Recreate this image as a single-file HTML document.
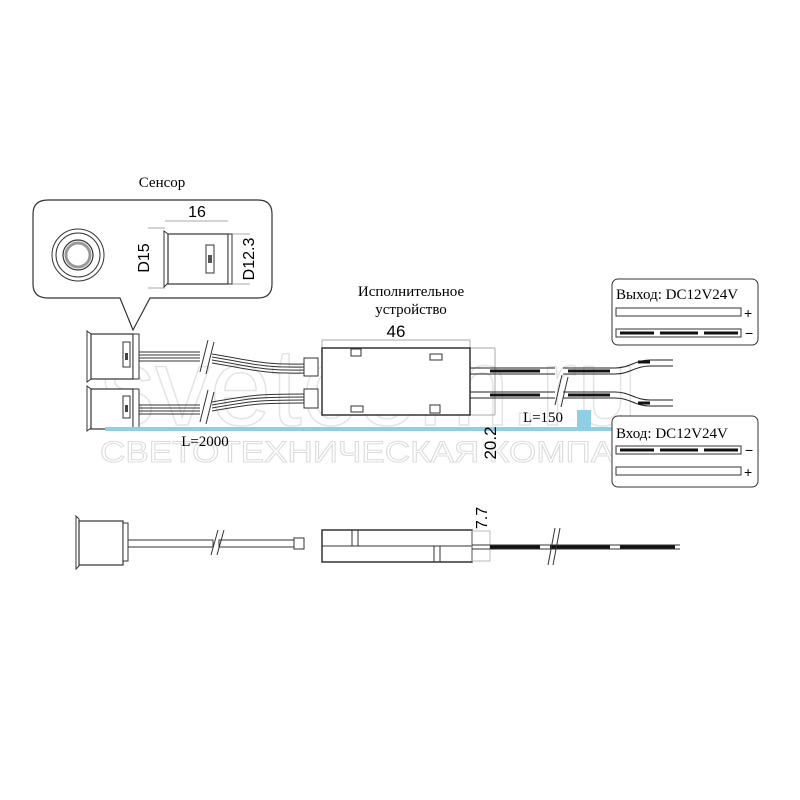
<!DOCTYPE html>
<html><head><meta charset="utf-8"><style>body{margin:0;background:#fff}svg{display:block}</style></head>
<body>
<svg width="800" height="800" viewBox="0 0 800 800" xmlns="http://www.w3.org/2000/svg" font-family="Liberation Serif, serif">
<rect width="800" height="800" fill="#fff"/>
<text x="100" y="425" font-family="Liberation Sans, sans-serif" font-size="110" fill="none" stroke="#e4e4e4" stroke-width="1.5">svetcom.ru</text>
<text x="100" y="462" font-family="Liberation Sans, sans-serif" font-size="30" fill="none" stroke="#dcdcdc" stroke-width="1" textLength="590" lengthAdjust="spacingAndGlyphs">СВЕТОТЕХНИЧЕСКАЯ КОМПАНИЯ</text>

<text x="162" y="187" font-size="15" text-anchor="middle">Сенсор</text>
<path d="M48 200 H258 Q272 200 272 214 V284 Q272 298 258 298 H150 L133 330 L120 298 H48 Q33 298 33 284 V214 Q33 200 48 200 Z" fill="#fff" stroke="#333" stroke-width="1.2"/>
<circle cx="78" cy="255" r="26" fill="none" stroke="#333" stroke-width="1"/>
<circle cx="78" cy="255" r="22" fill="none" stroke="#333" stroke-width="1"/>
<circle cx="78" cy="255" r="15" fill="none" stroke="#333" stroke-width="1.2"/>
<circle cx="78" cy="255" r="12" fill="none" stroke="#999" stroke-width="3"/>
<line x1="165" y1="221" x2="228" y2="221" stroke="#aaa"/>
<line x1="148" y1="228" x2="165" y2="228" stroke="#aaa"/>
<line x1="148" y1="288" x2="165" y2="288" stroke="#aaa"/>
<line x1="230" y1="234" x2="250" y2="234" stroke="#aaa"/>
<line x1="230" y1="284" x2="250" y2="284" stroke="#aaa"/>
<path d="M164 231 L168 234 V283 L164 287 Z" fill="#fff" stroke="#333"/>
<rect x="168" y="234" width="60" height="50" fill="#fff" stroke="#333" stroke-width="1.2"/>
<rect x="228" y="234" width="4" height="50" fill="#fff" stroke="#333"/>
<rect x="206" y="245" width="8" height="28" fill="#fff" stroke="#333"/>
<rect x="208" y="255" width="4" height="8" fill="#555"/>
<text x="197" y="217" font-family="Liberation Sans, sans-serif" font-size="16" text-anchor="middle">16</text>
<text transform="translate(149,258) rotate(-90)" font-family="Liberation Sans, sans-serif" font-size="16" text-anchor="middle">D15</text>
<text transform="translate(254,259) rotate(-90)" font-family="Liberation Sans, sans-serif" font-size="16" text-anchor="middle">D12.3</text>

<g stroke="#333" fill="#fff">
<path d="M87 331 L91 334 V379 L87 382 Z"/>
<rect x="91" y="334" width="42" height="45" stroke-width="1.2"/>
<rect x="133" y="334" width="6" height="45"/>
<rect x="123" y="342" width="7" height="25"/>
<path d="M87 386 L91 389 V428 L87 431 Z"/>
<rect x="91" y="389" width="42" height="40" stroke-width="1.2"/>
<rect x="133" y="389" width="6" height="40"/>
<rect x="123" y="396" width="7" height="22"/>
</g>
<rect x="125" y="353" width="3" height="7" fill="#444"/>
<rect x="125" y="405" width="3" height="7" fill="#444"/>
<g fill="none" stroke="#333" stroke-width="1">
<path d="M139 352 H200 M212 354 C250 360 260 365 305 364"/>
<path d="M139 355 H200 M212 357 C250 363 260 368 305 367"/>
<path d="M139 358 H200 M212 360 C250 366 260 371 305 370"/>
<path d="M139 361 H200 M212 363 C250 369 260 374 305 373"/>
<path d="M139 405 H200 M212 402 C250 395 260 394 305 394"/>
<path d="M139 408 H200 M212 405 C250 398 260 397 305 397"/>
<path d="M139 411 H200 M212 408 C250 401 260 400 305 400"/>
<path d="M139 414 H200 M212 411 C250 404 260 403 305 403"/>
<path d="M200 372 L208 340 M206 374 L214 342"/>
<path d="M200 422 L208 390 M206 424 L214 392"/>
</g>
<g stroke="#333" fill="#fff">
<rect x="304" y="358" width="14" height="18"/>
<rect x="304" y="389" width="14" height="19"/>
</g>
<line x1="322" y1="340" x2="470" y2="340" stroke="#aaa"/>
<line x1="322" y1="340" x2="322" y2="348" stroke="#aaa"/>
<line x1="470" y1="340" x2="470" y2="348" stroke="#aaa"/>
<line x1="470" y1="348" x2="495" y2="348" stroke="#aaa"/>
<line x1="470" y1="415" x2="495" y2="415" stroke="#aaa"/>
<line x1="495" y1="348" x2="495" y2="415" stroke="#aaa"/>
<rect x="322" y="348" width="148" height="67" fill="#fff" stroke="#333" stroke-width="1.5"/>
<g fill="#fff" stroke="#333">
<rect x="351" y="349" width="10" height="7"/>
<rect x="430" y="354" width="12" height="6"/>
<rect x="351" y="406" width="12" height="6"/>
<rect x="430" y="405" width="10" height="8"/>
</g>
<text x="411" y="296" font-size="15" text-anchor="middle">Исполнительное</text>
<text x="411" y="314" font-size="15" text-anchor="middle">устройство</text>
<text x="396" y="337" font-family="Liberation Sans, sans-serif" font-size="17" text-anchor="middle">46</text>
<g fill="none" stroke="#222">
<path d="M470 368 H555 M563 368 H615 C630 368 635 360 650 360 H673"/>
<path d="M470 374 H555 M563 374 H615 C630 374 635 366 650 366 H673"/>
<path d="M470 392 H555 M563 392 H615 C630 392 635 400 650 400 H673"/>
<path d="M470 398 H555 M563 398 H615 C630 398 635 406 650 406 H673"/>
</g>
<g stroke="#111" stroke-width="3">
<path d="M490 371 H540 M568 371 H610"/>
<path d="M490 395 H540 M568 395 H610"/>
<path d="M638 362 L650 362 M638 403 L650 403"/>
</g>
<path d="M555 405 L562 375 M561 407 L568 377" stroke="#333"/>
<rect x="105" y="427" width="605" height="4" fill="#8ecfe6"/>
<rect x="577" y="410" width="14" height="18" fill="#8ecfe6"/>
<text x="543" y="422" font-size="15" text-anchor="middle">L=150</text>
<text x="205" y="446" font-size="15" text-anchor="middle">L=2000</text>
<text transform="translate(496,443) rotate(-90)" font-family="Liberation Sans, sans-serif" font-size="17" text-anchor="middle">20.2</text>
<rect x="612" y="279" width="146" height="66" rx="6" fill="#fff" stroke="#333"/>
<text x="616" y="299" font-size="15">Выход: DC12V24V</text>
<rect x="616" y="308" width="125" height="8" fill="#fff" stroke="#333"/>
<text x="744" y="318" font-family="Liberation Sans, sans-serif" font-size="14">+</text>
<rect x="616" y="329" width="125" height="8" fill="#fff" stroke="#333"/>
<path d="M620 333 H654 M660 333 H698 M704 333 H738" stroke="#111" stroke-width="3"/>
<text x="745" y="338" font-family="Liberation Sans, sans-serif" font-size="14">−</text>
<rect x="612" y="416" width="146" height="71" rx="6" fill="#fff" stroke="#333"/>
<text x="616" y="438" font-size="15">Вход: DC12V24V</text>
<rect x="616" y="446" width="125" height="8" fill="#fff" stroke="#333"/>
<path d="M620 450 H654 M660 450 H698 M704 450 H738" stroke="#111" stroke-width="3"/>
<text x="745" y="455" font-family="Liberation Sans, sans-serif" font-size="14">−</text>
<rect x="616" y="467" width="125" height="8" fill="#fff" stroke="#333"/>
<text x="744" y="477" font-family="Liberation Sans, sans-serif" font-size="14">+</text>

<g stroke="#333" fill="#fff">
<path d="M76 516 L79 519 V566 L76 569 Z"/>
<rect x="79" y="521" width="44" height="44" stroke-width="1.2"/>
<rect x="123" y="523" width="5" height="38"/>
<rect x="128" y="540" width="85" height="7"/>
<rect x="219" y="540" width="75" height="7"/>
<rect x="294" y="538" width="10" height="11"/>
</g>
<path d="M211 555 L218 530 M217 555 L224 530" stroke="#333"/>
<rect x="322" y="530" width="150" height="32" fill="#fff" stroke="#333" stroke-width="1.5"/>
<line x1="322" y1="546" x2="472" y2="546" stroke="#333"/>
<path d="M352 530 V546 M358 530 V546 M434 546 V562 M440 546 V562" stroke="#333"/>
<rect x="472" y="531" width="18" height="30" fill="none" stroke="#bbb"/>
<text transform="translate(487,518) rotate(-90)" font-family="Liberation Sans, sans-serif" font-size="16" text-anchor="middle">7.7</text>
<path d="M472 545 H680 M472 549 H680" stroke="#333"/>
<path d="M490 547 H540 M550 547 H610 M620 547 H675" stroke="#111" stroke-width="3"/>
<path d="M548 565 L555 528 M553 565 L560 528" stroke="#333"/>
</svg>
</body></html>
